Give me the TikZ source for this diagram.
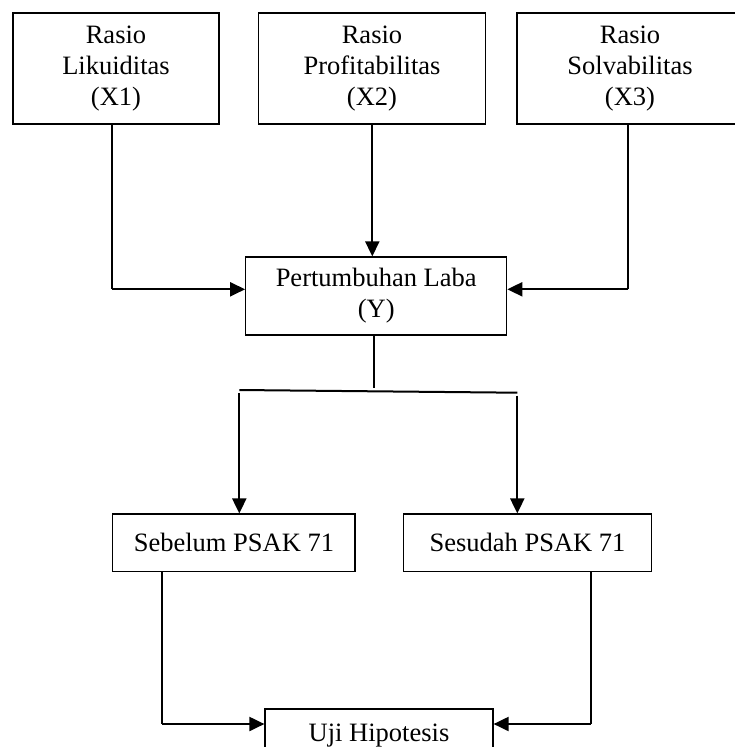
\documentclass[tikz,border=0pt]{standalone}
\usepackage{fontspec}
\setmainfont{Liberation Serif}
\usetikzlibrary{arrows.meta}
\begin{document}
\begin{tikzpicture}[x=1pt,y=-1pt,
  box/.style={draw, line width=1.2pt, align=center, inner sep=0pt,
    font=\fontsize{26.5}{31}\selectfont},
  conn/.style={line width=2pt},
  arr/.style={line width=2pt, -{Triangle[length=15pt,width=14pt]}}]
\useasboundingbox (0,0) rectangle (735,747);
\clip (0,0) rectangle (735,747);
% boxes
\node[box, minimum width=206pt, minimum height=111pt] (b1) at (116,68.5) {Rasio\\Likuiditas\\(X1)};
\node[box, minimum width=227.7pt, minimum height=111pt] (b2) at (372,68.5) {Rasio\\Profitabilitas\\(X2)};
\node[box, minimum width=226pt, minimum height=111pt] (b3) at (630,68.5) {Rasio\\Solvabilitas\\(X3)};
\node[box, minimum width=261pt, minimum height=78pt] (y) at (376.2,296) {Pertumbuhan Laba\\(Y)};
\node[box, minimum width=242.3pt, minimum height=57.3pt] (sb) at (233.9,542.7) {Sebelum PSAK 71};
\node[box, minimum width=248.4pt, minimum height=57.3pt] (sd) at (527.5,542.7) {Sesudah PSAK 71};
\node[box, minimum width=228pt, minimum height=54pt] (uji) at (379,736) {Uji Hipotesis};
% coordinates
\coordinate (c1) at (111.7,289.3);
\coordinate (c2) at (372.3,124);
\coordinate (c3) at (628.3,289.3);
\coordinate (j) at (374,388);
\coordinate (sl) at (239.3,390);
\coordinate (sr) at (517.3,392.7);
\coordinate (d1) at (161.7,724);
\coordinate (d2) at (590.7,724);
% connectors top
\draw[conn] (b1.south -| c1) -- (c1);
\draw[arr] (c1) -- (c1 -| y.west);
\draw[arr] (b2.south -| c2) -- (y.north -| c2);
\draw[conn] (b3.south -| c3) -- (c3);
\draw[arr] (c3) -- (c3 -| y.east);
% split
\draw[conn] (y.south -| j) -- (j);
\draw[conn] (sl) -- (sr);
\draw[arr] ([yshift=-3pt]sl) -- (sb.north -| sl);
\draw[arr] ([yshift=-3pt]sr) -- (sd.north -| sr);
% bottom
\draw[conn] (sb.south -| d1) -- (d1);
\draw[arr] (d1) -- (d1 -| uji.west);
\draw[conn] (sd.south -| d2) -- (d2);
\draw[arr] (d2) -- (d2 -| uji.east);
\end{tikzpicture}
\end{document}
